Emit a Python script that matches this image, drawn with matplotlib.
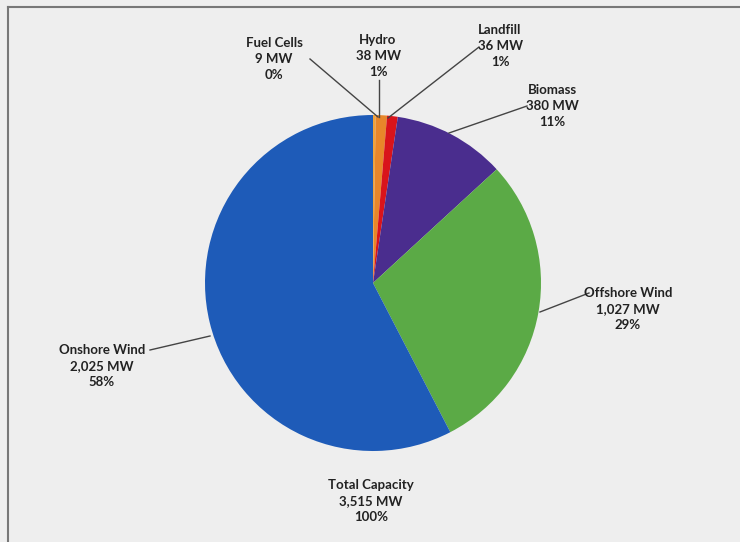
import matplotlib.pyplot as plt

# capacity by source, clockwise from 12 o'clock
names = ['Fuel Cells', 'Hydro', 'Landfill', 'Biomass', 'Offshore Wind', 'Onshore Wind']
mw = [9, 38, 36, 380, 1027, 2025]
colors = ['#F0A23A', '#E8862A', '#D9141B', '#4A2D8E', '#5BAA46', '#1E5BB8']

total = sum(mw)
W, H = 740, 542

def fmt(v):
    return f'{v:,} MW'

fig = plt.figure(figsize=(W / 100, H / 100), dpi=100, facecolor='#EEEEEE')
ax = fig.add_axes([0, 0, 1, 1])

cx, cy, r = 373, H - 283, 168
ax.pie(mw, colors=colors, startangle=90, counterclock=False,
       center=(cx, cy), radius=r, frame=True,
       wedgeprops=dict(linewidth=0))
ax.set_xlim(0, W)
ax.set_ylim(0, H)
ax.set_aspect('equal')
ax.axis('off')

# border (left and top visible)
ax.plot([8, 8], [0, H - 7], color='#777777', lw=1.5)
ax.plot([8, W], [H - 7, H - 7], color='#777777', lw=1.5)

# label text position (x, y of middle line) and leader line (label end -> slice)
lab_pos = [(274, 59), (378, 56), (500, 46), (552, 106), (628, 309), (102, 366)]
leaders = [((310, 59), (378, 117)), ((379, 80), (379, 117)),
           ((479, 47), (388, 118)), ((527, 106), (449, 133)),
           ((589, 293), (540, 312)), ((150, 350), (210, 336))]

font = dict(family=['Lato', 'DejaVu Sans'], fontweight='bold', fontsize=9.5,
            color='#222222', ha='center', va='center', linespacing=1.4)

for n, v, (lx, ly), (p0, p1) in zip(names, mw, lab_pos, leaders):
    pct = round(v / total * 100)
    ax.text(lx, H - ly, f'{n}\n{fmt(v)}\n{pct}%', **font)
    ax.plot([p0[0], p1[0]], [H - p0[1], H - p1[1]], color='#444444', lw=1)

ax.text(371, H - 501, f'Total Capacity\n{fmt(total)}\n100%', **font)

fig.savefig('out.png', dpi=100, facecolor=fig.get_facecolor())
